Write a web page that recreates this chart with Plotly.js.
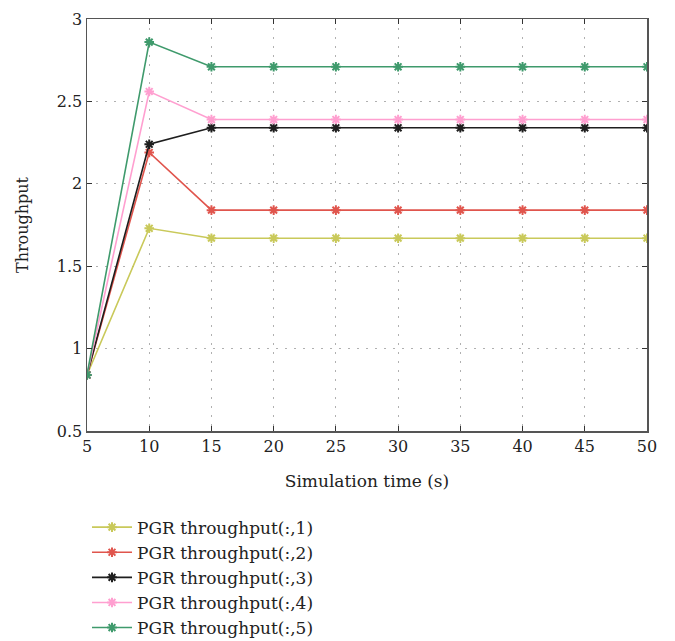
<!DOCTYPE html>
<html><head><meta charset="utf-8">
<script src="https://cdn.plot.ly/plotly-3.0.1.min.js"></script>
<style>body{margin:0;background:#fff}#chart{width:675px;height:641px}</style>
</head><body><div id="chart"></div>
<script>
const simTime = [5, 10, 15, 20, 25, 30, 35, 40, 45, 50];
const seriesNames = ["PGR throughput(:,1)", "PGR throughput(:,2)", "PGR throughput(:,3)", "PGR throughput(:,4)", "PGR throughput(:,5)"];
const thr1 = [0.84, 1.73, 1.67, 1.67, 1.67, 1.67, 1.67, 1.67, 1.67, 1.67];
const thr2 = [0.84, 2.19, 1.84, 1.84, 1.84, 1.84, 1.84, 1.84, 1.84, 1.84];
const thr3 = [0.84, 2.24, 2.34, 2.34, 2.34, 2.34, 2.34, 2.34, 2.34, 2.34];
const thr4 = [0.84, 2.56, 2.39, 2.39, 2.39, 2.39, 2.39, 2.39, 2.39, 2.39];
const thr5 = [0.84, 2.86, 2.71, 2.71, 2.71, 2.71, 2.71, 2.71, 2.71, 2.71];
const colors = ["#c9c95a", "#e0554d", "#1e1e1e", "#ff9fd0", "#3f9a6c"];
const allY = [thr1, thr2, thr3, thr4, thr5];

const traces = allY.map((y, i) => ({
  x: simTime, y: y, name: seriesNames[i], type: "scatter", mode: "lines+markers",
  line: {color: colors[i], width: 1.6},
  marker: {symbol: "asterisk-open", size: 8, color: colors[i], line: {color: colors[i], width: 2}}
}));

const fam = "DejaVu Serif";
const font = {family: fam, color: "#222", size: 16};
const layout = {
  width: 675, height: 641,
  margin: {l: 87, r: 28, t: 19, b: 210, autoexpand: false},
  paper_bgcolor: "#fff", plot_bgcolor: "#fff",
  font: font,
  showlegend: true,
  legend: {x: 0, xref: "paper", xanchor: "left", y: 0.205, yref: "container", yanchor: "top",
           font: {family: fam, size: 17, color: "#222"}, tracegroupgap: 0, itemwidth: 40, bgcolor: "rgba(0,0,0,0)"},
  xaxis: {
    range: [5, 50], dtick: 5, tick0: 5, ticks: "inside", ticklen: 5, tickcolor: "#333",
    showline: true, linecolor: "#555", linewidth: 1.5, mirror: "ticks",
    showgrid: true, gridcolor: "#b0b0b0", griddash: "2px,7px", gridwidth: 1.2, zeroline: false,
    title: {text: "Simulation time (s)", font: {family: fam, size: 17, color: "#222"}, standoff: 20},
    tickfont: {family: fam, size: 16, color: "#222"}
  },
  yaxis: {
    range: [0.5, 3], dtick: 0.5, tick0: 0.5, ticks: "inside", ticklen: 5, tickcolor: "#333",
    showline: true, linecolor: "#555", linewidth: 1.5, mirror: "ticks",
    showgrid: true, gridcolor: "#b0b0b0", griddash: "2px,7px", gridwidth: 1.2, zeroline: false,
    title: {text: "Throughput", font: {family: fam, size: 16, color: "#222"}, standoff: 24},
    tickfont: {family: fam, size: 16, color: "#222"}
  }
};
Plotly.newPlot("chart", traces, layout, {displayModeBar: false, staticPlot: true});
</script></body></html>
